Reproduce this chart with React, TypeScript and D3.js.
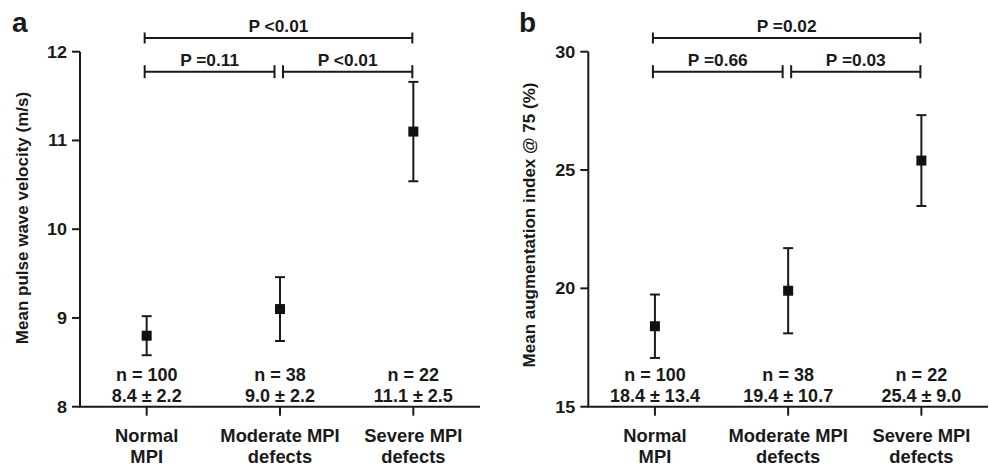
import React from "react";
import * as d3 from "d3";

const categoryLines = [["Normal", "MPI"], ["Moderate MPI", "defects"], ["Severe MPI", "defects"]];
const categories = ["Normal MPI", "Moderate MPI defects", "Severe MPI defects"];
const nCounts = [100, 38, 22];

const pwvMean = [8.8, 9.1, 11.1];
const pwvErr = [0.22, 0.36, 0.56];
const pwvSummary = ["8.4 ± 2.2", "9.0 ± 2.2", "11.1 ± 2.5"];
const pwvTicks = [8, 9, 10, 11, 12];
const pwvCompare: [number, number, string, number][] = [[0, 2, "P <0.01", 0], [0, 1, "P =0.11", 1], [1, 2, "P <0.01", 1]];

const aixMean = [18.4, 19.9, 25.4];
const aixErr = [1.34, 1.8, 1.92];
const aixSummary = ["18.4 ± 13.4", "19.4 ± 10.7", "25.4 ± 9.0"];
const aixTicks = [15, 20, 25, 30];
const aixCompare: [number, number, string, number][] = [[0, 2, "P =0.02", 0], [0, 1, "P =0.66", 1], [1, 2, "P =0.03", 1]];

const FONT = "'Liberation Sans', Arial, Helvetica, sans-serif";
const INK = "#1a1a1a";

function T({ x, y, size, sx = 1, anchor = "middle", children, baseline }: any) {
  return (
    <text
      transform={`translate(${x},${y}) scale(${sx},1)`}
      fontFamily={FONT}
      fontWeight="bold"
      fontSize={size}
      textAnchor={anchor}
      dominantBaseline={baseline}
      fill={INK}
    >
      {children}
    </text>
  );
}

function Panel({ letter, letterX, axisX, rightX, domain, ticks, means, errs, summary, compare, title, titleX, titleY }: any) {
  const y = d3.scaleLinear().domain(domain).range([406.7, 51.7]);
  const x = d3.scaleBand<string>().domain(categories).range([axisX, rightX]).padding(0);
  const cx = (i: number) => (x(categories[i]) as number) + x.bandwidth() / 2;
  const levelY = [38, 71.7];
  const capH = [5.5, 6.5];
  return (
    <g>
      <T x={letterX} y={32} size={28} anchor="start">{letter}</T>
      <line x1={axisX} x2={axisX} y1={y(domain[1])} y2={y(domain[0])} stroke={INK} strokeWidth={2} />
      {ticks.map((t: number) => (
        <g key={t}>
          <line x1={axisX - 8} x2={axisX} y1={y(t)} y2={y(t)} stroke={INK} strokeWidth={2} />
          <T x={axisX - 13} y={y(t)} size={17} sx={1.06} anchor="end" baseline="central">{t}</T>
        </g>
      ))}
      <line x1={axisX - 1} x2={rightX} y1={y(domain[0])} y2={y(domain[0])} stroke={INK} strokeWidth={2} />
      {categories.map((c, i) => (
        <g key={c}>
          <line x1={cx(i)} x2={cx(i)} y1={y(domain[0])} y2={y(domain[0]) + 9} stroke={INK} strokeWidth={2} />
          <T x={cx(i)} y={441.7} size={18} sx={1.02}>{categoryLines[i][0]}</T>
          <T x={cx(i)} y={462.5} size={18} sx={1.02}>{categoryLines[i][1]}</T>
          <T x={cx(i)} y={381} size={17.5} sx={1.03}>{`n = ${nCounts[i]}`}</T>
          <T x={cx(i)} y={401.7} size={17.5} sx={1.03}>{summary[i]}</T>
          <line x1={cx(i)} x2={cx(i)} y1={y(means[i] - errs[i])} y2={y(means[i] + errs[i])} stroke={INK} strokeWidth={2} />
          <line x1={cx(i) - 5} x2={cx(i) + 5} y1={y(means[i] + errs[i])} y2={y(means[i] + errs[i])} stroke={INK} strokeWidth={2} />
          <line x1={cx(i) - 5} x2={cx(i) + 5} y1={y(means[i] - errs[i])} y2={y(means[i] - errs[i])} stroke={INK} strokeWidth={2} />
          <rect x={cx(i) - 5} y={y(means[i]) - 5} width={10} height={10} fill="#111" />
        </g>
      ))}
      {compare.map(([a, b, label, lvl]: [number, number, string, number], k: number) => {
        let x1 = cx(a) - 2;
        let x2 = cx(b) - 1;
        if (lvl === 1 && b === 1) x2 = cx(b) - 5.5;
        if (lvl === 1 && a === 1) x1 = cx(a) + 3;
        const yy = levelY[lvl];
        const h = capH[lvl];
        return (
          <g key={k}>
            <line x1={x1} x2={x2} y1={yy} y2={yy} stroke={INK} strokeWidth={2} />
            <line x1={x1} x2={x1} y1={yy - h} y2={yy + h} stroke={INK} strokeWidth={2} />
            <line x1={x2} x2={x2} y1={yy - h} y2={yy + h} stroke={INK} strokeWidth={2} />
            <T x={(x1 + x2) / 2} y={yy - 6} size={16.5} sx={1.05}>{label}</T>
          </g>
        );
      })}
      <text
        transform={`translate(${titleX},${titleY}) rotate(-90)`}
        fontFamily={FONT}
        fontWeight="bold"
        fontSize={17}
        textAnchor="middle"
        fill={INK}
      >
        {title}
      </text>
    </g>
  );
}

export default function App() {
  return (
    <svg width={989} height={465} style={{ position: "absolute", left: 0, top: 0, background: "#fff" }}>
      <rect width={989} height={465} fill="#fff" />
      <Panel
        letter="a"
        letterX={12}
        axisX={80}
        rightX={480}
        domain={[8, 12]}
        ticks={pwvTicks}
        means={pwvMean}
        errs={pwvErr}
        summary={pwvSummary}
        compare={pwvCompare}
        title="Mean pulse wave velocity (m/s)"
        titleX={28}
        titleY={218}
      />
      <Panel
        letter="b"
        letterX={519}
        axisX={588.3}
        rightX={988}
        domain={[15, 30]}
        ticks={aixTicks}
        means={aixMean}
        errs={aixErr}
        summary={aixSummary}
        compare={aixCompare}
        title="Mean augmentation index @ 75 (%)"
        titleX={535}
        titleY={225}
      />
    </svg>
  );
}
